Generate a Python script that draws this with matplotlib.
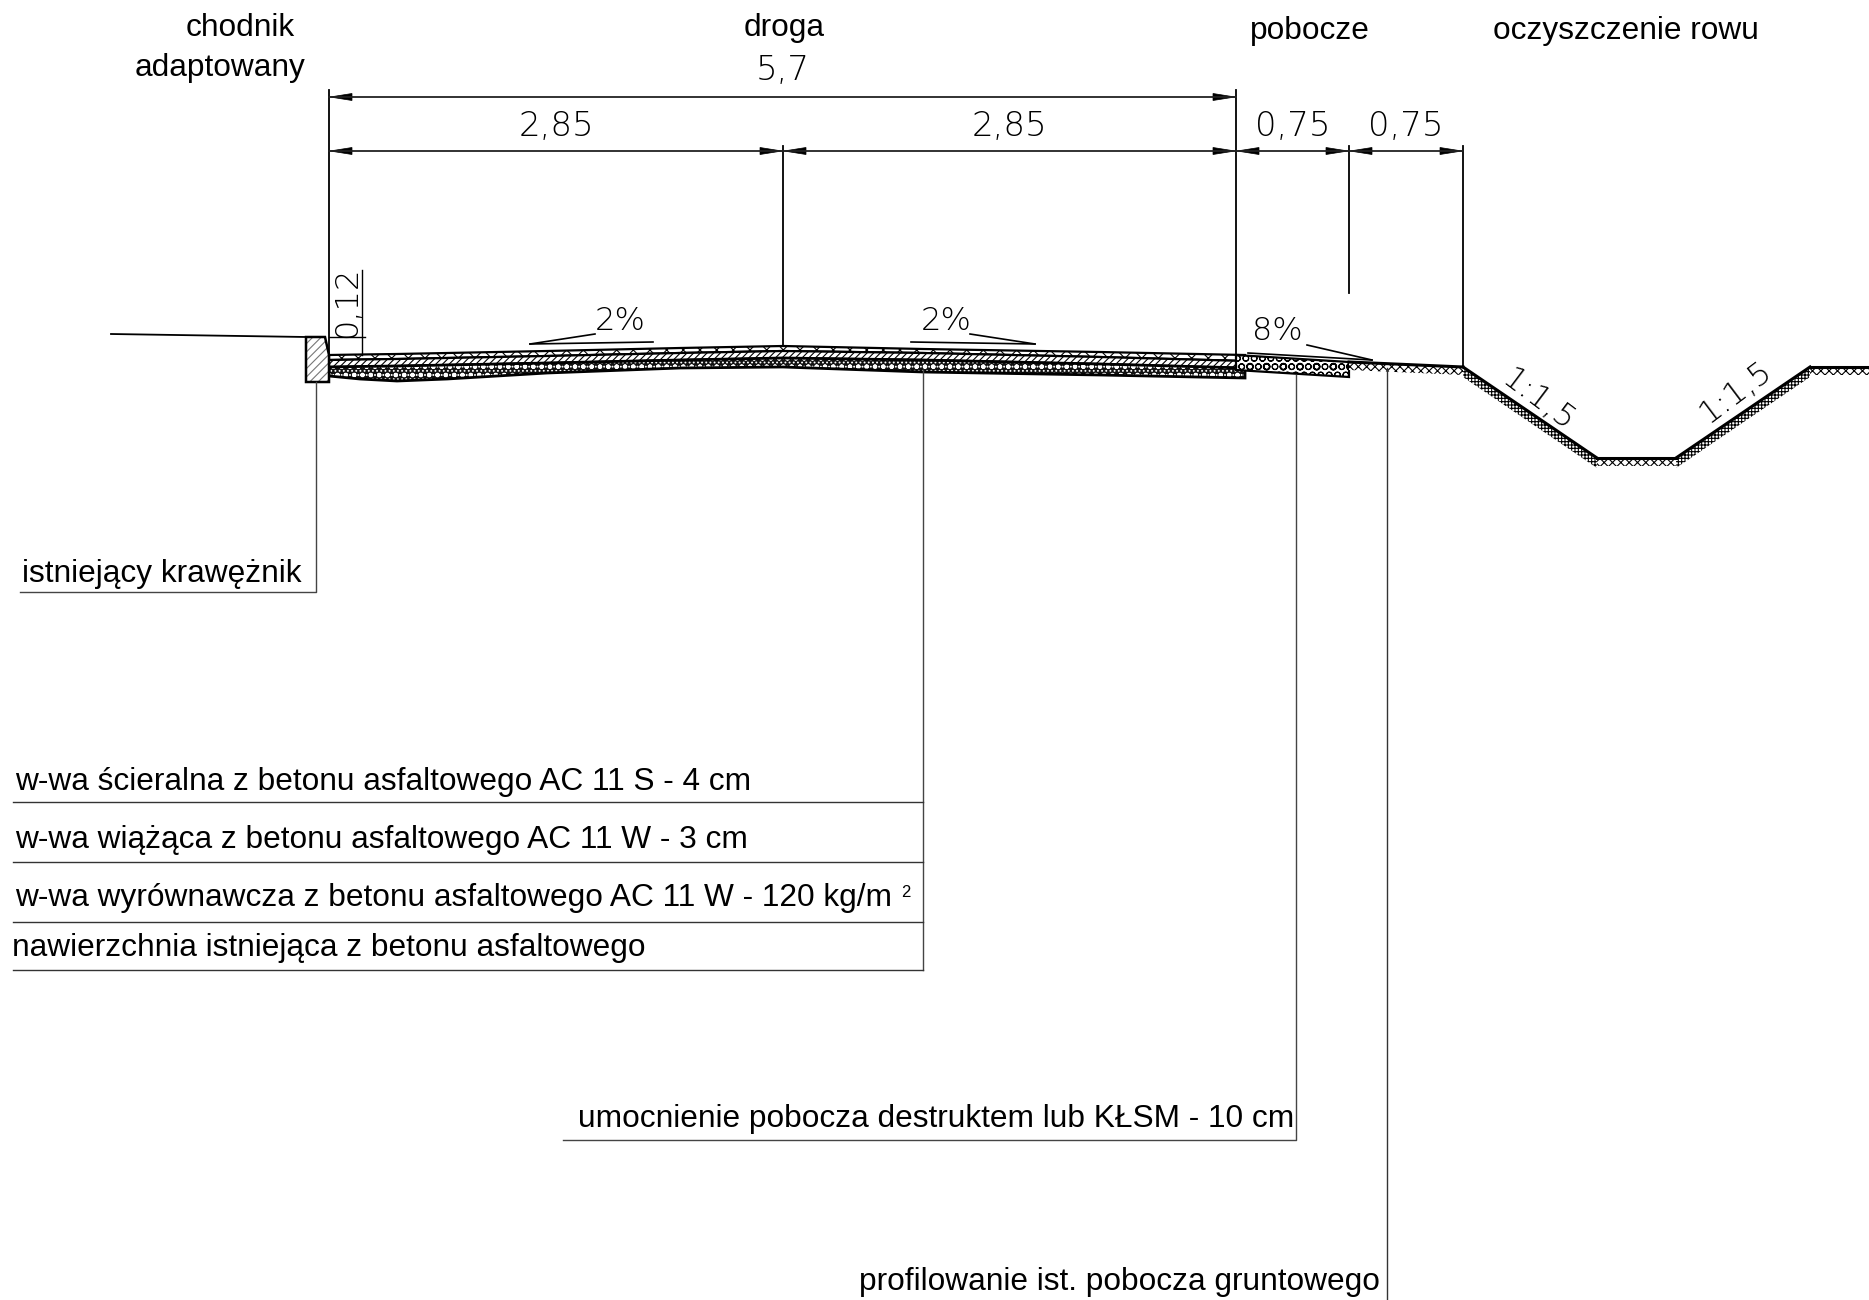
import matplotlib
matplotlib.use('Agg')
import matplotlib.pyplot as plt
from matplotlib.patches import Polygon

# everything in picture pixels
road_x = [329, 360, 397, 447, 547, 680, 783, 923, 1100, 1245]
road_top = [355, 354.5, 354, 353, 351, 348, 346, 349, 352, 355]
binder_top = [360, 359.5, 359, 358, 356, 353, 351, 353, 357, 361]
level_top = [367, 366.5, 366, 365, 363, 360, 358, 360, 364, 368]
level_bottom = [376, 379, 381, 379, 373, 368, 367, 372, 375, 378]

gravel_x = [1236, 1349]
gravel_top = [355, 362]
gravel_bottom = [370, 377]

flat_x = [[1349, 1463], [1597, 1676], [1810, 1869]]
flat_y = [[362, 367], [458, 458], [367, 367]]
slope_seg_x = [[1463, 1597], [1676, 1810]]
slope_seg_y = [[367, 458], [458, 367]]

curb_x = [306, 325, 329, 329, 306]
curb_y = [337, 337, 355, 382, 382]
terrain_x = [111, 306]
terrain_y = [334, 337]

dim_labels = ['5,7', '2,85', '2,85', '0,75', '0,75']
dim_start = [329, 329, 783, 1236, 1349]
dim_end = [1236, 783, 1236, 1349, 1463]
dim_y = [97, 151, 151, 151, 151]
dim_text_y = [71, 127, 127, 127, 127]

ext_x = [329, 1236, 783, 1349, 1463]
ext_top = [90, 90, 146, 146, 146]
ext_bottom = [355, 355, 346, 293, 367]

heads = ['chodnik', 'adaptowany', 'droga', 'pobocze', 'oczyszczenie rowu']
heads_x = [240, 220, 784, 1310, 1626]
heads_y = [36, 76, 36, 39, 39]

slope_labels = ['2%', '2%', '8%']
slope_x = [620, 946, 1277]
slope_y = [321, 321, 331]
wedge_base_x = [[530, 653], [911, 1035], [1248, 1372]]
wedge_base_y = [[344, 342], [342, 344], [353, 360]]
wedge_top_x = [[530, 595], [970, 1035], [1307, 1372]]
wedge_top_y = [[344, 334], [334, 344], [345, 360]]

ditch_labels = ['1:1,5', '1:1,5']
ditch_x = [1538, 1736]
ditch_y = [400, 392]
ditch_rot = [-37, 37]

layer_labels = ['w-wa ścieralna z betonu asfaltowego AC 11 S - 4 cm',
                'w-wa wiążąca z betonu asfaltowego AC 11 W - 3 cm',
                'w-wa wyrównawcza z betonu asfaltowego AC 11 W - 120 kg/m',
                'nawierzchnia istniejąca z betonu asfaltowego']
layer_text_x = [15, 15, 15, 12]
layer_text_y = [790, 848, 906, 956]
layer_rule_y = [802, 862, 922, 970]
layer_rule_x0 = 13
layer_leader_x = 923

plt.rcParams['font.family'] = ['Liberation Sans', 'DejaVu Sans']
plt.rcParams['hatch.linewidth'] = 0.8

fig = plt.figure(figsize=(18.69, 13), dpi=100)
ax = fig.add_axes([0, 0, 1, 1])
ax.set_xlim(0, 1869)
ax.set_ylim(1300, 0)
ax.axis('off')

TEXT = 22.8
CAD = dict(family='DejaVu Sans', weight=100, color='black', ha='center', va='center')


def band(x, top, bottom, hatch, face='white', edge='black', lw=1.6):
    pts = list(zip(x, top)) + list(zip(x[::-1], bottom[::-1]))
    ax.add_patch(Polygon(pts, closed=True, facecolor=face, edgecolor=edge, hatch=hatch, lw=0))
    ax.add_patch(Polygon(pts, closed=True, fill=False, edgecolor='black', lw=lw))


def arrow(x, y, sign):
    ax.add_patch(Polygon([(x, y), (x + sign * 22, y - 3.5), (x + sign * 22, y + 3.5)],
                         closed=True, facecolor='black', edgecolor='black', lw=0.5))


# pavement layers
band(road_x, road_top, binder_top, 'xx')
band(road_x, binder_top, level_top, '/////')
band(road_x, level_top, level_bottom, '....oo', face='#111111', edge='white', lw=2.0)
band(gravel_x, gravel_top, gravel_bottom, 'OOo', lw=1.6)

# ditch profile with the ground hatching below it
for x, y in zip(flat_x, flat_y):
    ax.fill_between(x, y, [v + 8 for v in y], facecolor='white', edgecolor='black',
                    hatch='xxxx', lw=0)
    ax.plot(x, y, color='black', lw=2.2, solid_capstyle='projecting')
for x, y in zip(slope_seg_x, slope_seg_y):
    ax.fill_between(x, y, [v + 10 for v in y], facecolor='white', edgecolor='black',
                    hatch='+++++', lw=0)
    ax.plot(x, y, color='black', lw=2.2, solid_capstyle='projecting')

# curb and terrain
ax.add_patch(Polygon(list(zip(curb_x, curb_y)), closed=True, facecolor='white',
                     edgecolor='#777777', hatch='////', lw=0))
ax.add_patch(Polygon(list(zip(curb_x, curb_y)), closed=True, fill=False, edgecolor='black', lw=1.8))
ax.plot(terrain_x, terrain_y, color='black', lw=1.3)

# dimension lines
for x, t, b in zip(ext_x, ext_top, ext_bottom):
    ax.plot([x, x], [t, b], color='black', lw=1.3)
for label, a, b, y, ty in zip(dim_labels, dim_start, dim_end, dim_y, dim_text_y):
    ax.plot([a, b], [y, y], color='#222222', lw=1.3)
    arrow(a + 1, y, 1)
    arrow(b - 1, y, -1)
    ax.text((a + b) / 2, ty, label, fontsize=24.5, **CAD)

# curb height
ax.plot([329, 365], [337, 337], color='black', lw=1.0)
ax.plot([362, 362], [270, 355], color='black', lw=1.0)
ax.text(347, 302, '0,12', fontsize=23, rotation=90, **CAD)

# slopes
for label, x, y in zip(slope_labels, slope_x, slope_y):
    ax.text(x, y, label, fontsize=23, **CAD)
for bx, by, tx, ty in zip(wedge_base_x, wedge_base_y, wedge_top_x, wedge_top_y):
    ax.plot(bx, by, color='black', lw=1.2)
    ax.plot(tx, ty, color='black', lw=1.2)
for label, x, y, rot in zip(ditch_labels, ditch_x, ditch_y, ditch_rot):
    ax.text(x, y, label, fontsize=23, rotation=rot, **CAD)

# headings
for label, x, y in zip(heads, heads_x, heads_y):
    ax.text(x, y, label, fontsize=TEXT, ha='center', va='baseline')

# leaders
ax.plot([316, 316, 20], [382, 592, 592], color='#444444', lw=1.0)
ax.text(22, 582, 'istniejący krawężnik', fontsize=TEXT, va='baseline')

ax.plot([layer_leader_x, layer_leader_x], [370, layer_rule_y[-1]], color='#444444', lw=1.0)
for label, tx, ty, ry in zip(layer_labels, layer_text_x, layer_text_y, layer_rule_y):
    ax.text(tx, ty, label, fontsize=TEXT, va='baseline')
    ax.plot([layer_rule_x0, layer_leader_x], [ry, ry], color='#333333', lw=1.0)
ax.text(901, 897, '2', fontsize=12, va='baseline')

ax.plot([1296, 1296, 563], [375, 1140, 1140], color='#444444', lw=1.0)
ax.text(578, 1127, 'umocnienie pobocza destruktem lub KŁSM - 10 cm', fontsize=TEXT, va='baseline')

ax.plot([1387, 1387], [368, 1300], color='#333333', lw=1.0)
ax.text(859, 1290, 'profilowanie ist. pobocza gruntowego', fontsize=TEXT, va='baseline')

fig.savefig('out.png', dpi=100, facecolor='white')
